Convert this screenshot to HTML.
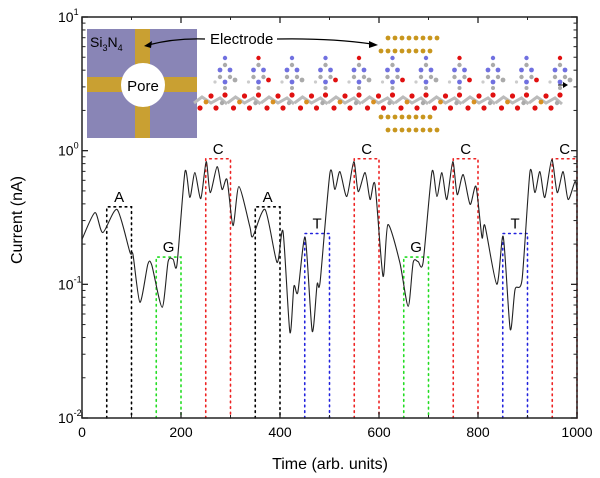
<!DOCTYPE html>
<html><head><meta charset="utf-8"><style>
body{margin:0;background:#fff;}
svg{display:block;font-family:"Liberation Sans",Arial,sans-serif;}
</style></head><body>
<svg id="chart" width="600" height="478" viewBox="0 0 600 478">
<g id="inset">
<rect x="87" y="29" width="110" height="109" fill="#8985b6"/>
<rect x="135" y="29" width="15" height="109" fill="#c9a032"/>
<rect x="87" y="77" width="110" height="15" fill="#c9a032"/>
<circle cx="143" cy="85" r="22" fill="#fff"/>
<text x="143" y="91" font-size="15" text-anchor="middle">Pore</text>
<text x="90" y="47" font-size="14">Si<tspan font-size="9" dy="4">3</tspan><tspan dy="-4">N</tspan><tspan font-size="9" dy="4">4</tspan></text>
<text x="210" y="44" font-size="15">Electrode</text>
<path d="M205 39 Q175 38 148 45" fill="none" stroke="#000" stroke-width="1.3"/>
<polygon points="144,46 152,41 151,48" fill="#000"/>
<path d="M277 39 Q330 38 372 44" fill="none" stroke="#000" stroke-width="1.3"/>
<polygon points="378,45 369,41 369,48" fill="#000"/>
<g id="mol"></g>
</g>
<g id="boxes"></g>
<path id="trace" fill="none" stroke="#222" stroke-width="1.1"/>
<g id="axes"></g>
<text x="22" y="220" font-size="16" text-anchor="middle" transform="rotate(-90 22 220)">Current (nA)</text>
<text x="330" y="469" font-size="16" text-anchor="middle">Time (arb. units)</text>
</svg>
<script>
const times=[0,26,42,71,97,103,117,133,141,162,174,184,192,208,218,228,240,251,259,273,283,293,305,317,339,345,370,394,406,420,428,436,451,465,475,481,501,511,521,535,549,558,572,582,592,608,618,642,659,669,679,689,707,717,727,737,749,758,770,784,796,808,814,838,851,865,875,889,905,915,925,935,949,960,972,982,996,1000];
const currents=[0.217,0.344,0.244,0.363,0.173,0.167,0.0734,0.141,0.139,0.0673,0.148,0.154,0.141,0.697,0.446,0.685,0.438,0.828,0.486,0.760,0.512,0.608,0.275,0.539,0.271,0.228,0.363,0.146,0.249,0.0438,0.0966,0.0871,0.224,0.0446,0.100,0.104,0.685,0.512,0.697,0.454,0.828,0.494,0.685,0.431,0.558,0.115,0.280,0.146,0.0685,0.146,0.148,0.146,0.697,0.454,0.685,0.431,0.828,0.469,0.662,0.396,0.539,0.224,0.275,0.100,0.228,0.0462,0.0918,0.109,0.697,0.486,0.697,0.446,0.857,0.486,0.697,0.431,0.587,0.50];
const boxBases=["A","G","C","A","T","C","G","C","T","C"];
const boxStarts=[50,150,250,350,450,550,650,750,850,950];
const boxTops=[0.38,0.16,0.87,0.38,0.24,0.87,0.16,0.87,0.24,0.87];
const xTicks=[0,200,400,600,800,1000];
const yDecades=[-2,-1,0,1];
const baseColors={A:"#000",G:"#22dd22",C:"#ee2222",T:"#2222dd"};
const X0=82,X1=577,YT=17,YB=418;
const sx=t=>X0+(t/1000)*(X1-X0);
const sy=v=>YB-(Math.log10(v)+2)/3*(YB-YT);
const NS="http://www.w3.org/2000/svg";
function mk(tag,attrs,parent){const e=document.createElementNS(NS,tag);for(const k in attrs)e.setAttribute(k,attrs[k]);parent.appendChild(e);return e;}
const pts=times.map((t,i)=>[sx(t),sy(currents[i])]);
let d="M"+pts[0][0].toFixed(1)+" "+pts[0][1].toFixed(1);
const K=8;
for(let i=0;i<pts.length-1;i++){const p0=pts[Math.max(0,i-1)],p1=pts[i],p2=pts[i+1],p3=pts[Math.min(pts.length-1,i+2)];
const c1=[p1[0]+(p2[0]-p0[0])/K,p1[1]+(p2[1]-p0[1])/K],c2=[p2[0]-(p3[0]-p1[0])/K,p2[1]-(p3[1]-p1[1])/K];
d+=" C"+c1.map(v=>v.toFixed(1)).join(" ")+" "+c2.map(v=>v.toFixed(1)).join(" ")+" "+p2.map(v=>v.toFixed(1)).join(" ");}
document.getElementById('trace').setAttribute('d',d);
const bg=document.getElementById('boxes');
boxStarts.forEach((s,i)=>{const c=baseColors[boxBases[i]];const x1=sx(s),x2=sx(s+50),y=sy(boxTops[i]);
const p=mk('path',{d:`M${x1} ${YB} V${y} H${x2} V${YB}`,fill:'none',stroke:c,'stroke-width':1.6,'stroke-dasharray':'1.6 4','stroke-linecap':'round'},bg);


const t=mk('text',{x:(x1+x2)/2,y:y-5,'font-size':15,'text-anchor':'middle'},bg);t.textContent=boxBases[i];

});
const ax=document.getElementById('axes');
mk('rect',{x:X0,y:YT,width:X1-X0,height:YB-YT,fill:'none',stroke:'#222','stroke-width':1.5},ax);
xTicks.forEach(t=>{const x=sx(t);mk('line',{x1:x,x2:x,y1:YB,y2:YB-6,stroke:'#222','stroke-width':1.3},ax);mk('line',{x1:x,x2:x,y1:YT,y2:YT+6,stroke:'#222','stroke-width':1.3},ax);
const l=mk('text',{x:x,y:YB+19,'font-size':14,'text-anchor':'middle'},ax);l.textContent=t;

});
for(let t=100;t<1000;t+=200){const x=sx(t);mk('line',{x1:x,x2:x,y1:YB,y2:YB-3,stroke:'#222'},ax);mk('line',{x1:x,x2:x,y1:YT,y2:YT+3,stroke:'#222'},ax);}
yDecades.forEach(e=>{const y=sy(Math.pow(10,e));
mk('line',{x1:X0,x2:X0+6,y1:y,y2:y,stroke:'#222','stroke-width':1.3},ax);mk('line',{x1:X1,x2:X1-6,y1:y,y2:y,stroke:'#222','stroke-width':1.3},ax);
const l=mk('text',{x:58,y:y+5,'font-size':14},ax);l.innerHTML='10<tspan font-size="9" dy="-7">'+e+'</tspan>';


if(e<1)for(let m=2;m<10;m++){const yy=sy(m*Math.pow(10,e));mk('line',{x1:X0,x2:X0+3.5,y1:yy,y2:yy,stroke:'#222'},ax);mk('line',{x1:X1,x2:X1-3.5,y1:yy,y2:yy,stroke:'#222'},ax);}});
const mol=document.getElementById('mol');
function ball(x,y,r,c){mk('circle',{cx:x,cy:y,r:r,fill:c},mol);}
const gold="#c8961e";
for(let k=0;k<8;k++){ball(388+k*7,38,2.4,gold);ball(381+k*7,51,2.4,gold);ball(381+k*7,117,2.4,gold);ball(388+k*7,130,2.4,gold);}
for(let i=0;i<11;i++){const bx=208+i*33.5;
mk('path',{d:`M${bx-14} ${103} L${bx-6} ${97} L${bx+3} ${103} L${bx+12} ${98} L${bx+19} ${104}`,stroke:'#bbb','stroke-width':3,fill:'none'},mol);
ball(bx-8,108,2.6,'#e01010');ball(bx-2,102,2.4,'#d89020');ball(bx+3,96,2.6,'#e01010');ball(bx+8,108,2.6,'#e01010');ball(bx+14,103,2.2,'#aaa');
ball(bx+17,95,2.6,'#e01010');ball(bx+17,88,2,'#aaa');ball(bx+17,82,2.4,'#7070e0');
ball(bx+12,77,2.2,'#aaa');ball(bx+12,70,2.4,'#7070e0');ball(bx+17,65,2.2,'#aaa');ball(bx+22,70,2.4,'#7070e0');ball(bx+22,77,2.2,'#aaa');
ball(bx+17,58,2.2,(i%3==1)?'#e01010':'#7070e0');ball(bx+27,80,2.4,(i%2)?'#e01010':'#aaa');ball(bx+7,82,1.6,'#ccc');}
mk('line',{x1:558,x2:566,y1:85,y2:85,stroke:'#000'},mol);mk('polygon',{points:'568,85 563,82 563,88',fill:'#000'},mol);
</script>
</body></html>
